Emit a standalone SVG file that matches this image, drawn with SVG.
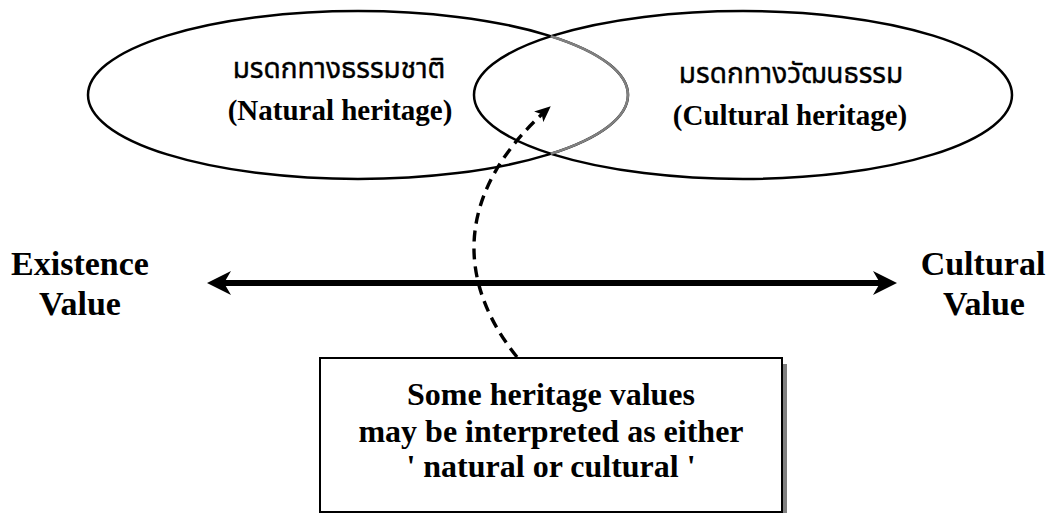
<svg xmlns="http://www.w3.org/2000/svg" width="1051" height="513" viewBox="0 0 1051 513">
<style>
.ell{fill:none;stroke:#000;stroke-width:2.5}
.lbl{font-family:"Liberation Serif","Times New Roman",serif;font-weight:bold;fill:#000;text-anchor:middle}
.thai{font-family:"Noto Sans Thai","Noto Serif Thai","Tlwg Typo","Loma","DejaVu Sans",sans-serif;fill:#000;stroke:#000;stroke-width:0.4;text-anchor:middle;font-size:28px}
.dash{fill:none;stroke:#000;stroke-width:3.4;stroke-dasharray:11 7}
</style>
<defs>
<marker id="dh" markerUnits="userSpaceOnUse" viewBox="0 0 16 14" refX="15" refY="7" markerWidth="16" markerHeight="14" orient="auto">
<path d="M0,0 L16,7 L0,14 L4,7 z" fill="#000"/>
</marker>
</defs>
<rect width="1051" height="513" fill="#fff"/>
<g id="node-natural">
<ellipse class="ell" cx="358" cy="95" rx="270" ry="84"/>
<text class="thai" x="339" y="78">มรดกทางธรรมชาติ</text>
<text class="lbl" x="340" y="120" font-size="29">(Natural heritage)</text>
</g>
<g id="node-cultural">
<ellipse class="ell" cx="743" cy="95" rx="269" ry="84"/>
<path d="M550.75,36.2 A270,84 0 0 1 550.75,153.8" fill="none" stroke="#808080" stroke-width="2.5"/>
<text class="thai" x="791" y="83">มรดกทางวัฒนธรรม</text>
<text class="lbl" x="790" y="125" font-size="29">(Cultural heritage)</text>
</g>
<g id="node-existence">
<text class="lbl" x="80" y="275" font-size="34">Existence</text>
<text class="lbl" x="80" y="315" font-size="34">Value</text>
</g>
<g id="node-culturalvalue">
<text class="lbl" x="983" y="275" font-size="34">Cultural</text>
<text class="lbl" x="984" y="315" font-size="34">Value</text>
</g>
<g id="node-note">
<rect x="325" y="364" width="462" height="154" fill="#808080"/>
<rect x="320" y="358" width="462" height="154" fill="#fff" stroke="#000" stroke-width="2"/>
<text class="lbl" x="551" y="405" font-size="32">Some heritage values</text>
<text class="lbl" x="551" y="442" font-size="32">may be interpreted as either</text>
<text class="lbl" x="551" y="477" font-size="32">' natural or cultural '</text>
</g>
<g id="connectors">
<line x1="222" y1="283" x2="882" y2="283" stroke="#000" stroke-width="6"/>
<polygon points="207,283 231,271 224,283 231,295" fill="#000"/>
<polygon points="897,283 873,271 880,283 873,295" fill="#000"/>
<path class="dash" d="M517,357 C455,280 455,190 550,107" marker-end="url(#dh)"/>
</g>
</svg>
